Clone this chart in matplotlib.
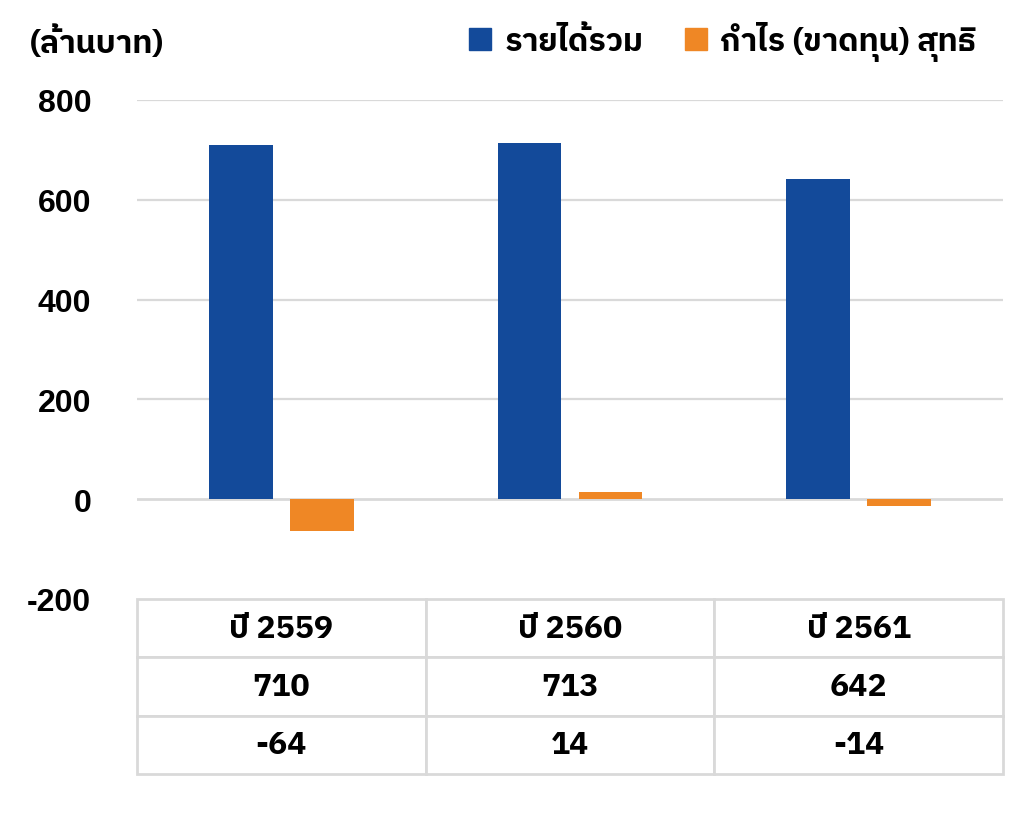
import matplotlib
matplotlib.use("Agg")
import matplotlib.pyplot as plt
from matplotlib.patches import Patch
import numpy as np

plt.rcParams['font.family'] = ['IBM Plex Sans Thai', 'DejaVu Sans']
plt.rcParams['axes.unicode_minus'] = False

years = ["ปี 2559", "ปี 2560", "ปี 2561"]
revenue = [710, 713, 642]
profit = [-64, 14, -14]
revenue_label = "รายได้รวม"
profit_label = "กำไร (ขาดทุน) สุทธิ"
unit_label = "(ล้านบาท)"

BLUE = "#134a9a"
ORANGE = "#ef8725"
GRID = "#d9d9d9"

fig = plt.figure(figsize=(10.24, 8.28), dpi=100)
ax = fig.add_axes([137 / 1024, 1 - 600 / 828, 866 / 1024, 499 / 828])

x = np.arange(len(years))
w = 0.22
ax.bar(x - 0.14, revenue, w, color=BLUE, zorder=3)
ax.bar(x + 0.14, profit, w, color=ORANGE, zorder=3)

ax.set_xlim(-0.5, len(years) - 0.5)
ax.set_ylim(-200, 800)
ax.set_yticks([-200, 0, 200, 400, 600, 800])
for y in [0, 200, 400, 600, 800]:
    ax.axhline(y, color=GRID, lw=1.6 if y else 2, zorder=1)
ax.set_xticks([])
for s in ax.spines.values():
    s.set_visible(False)
ax.tick_params(axis="y", length=0, pad=33)
for lab in ax.get_yticklabels():
    lab.set_fontfamily(['Liberation Sans', 'DejaVu Sans'])
    lab.set_fontweight("bold")
    lab.set_fontsize(23)

# data table under the plot
cells = [years, [str(v) for v in revenue], [str(v) for v in profit]]
tbl = ax.table(cellText=cells, cellLoc="center", bbox=[0, -0.351, 1, 0.351])
tbl.auto_set_font_size(False)
for (r, c), cell in tbl.get_celld().items():
    cell.set_edgecolor(GRID)
    cell.set_linewidth(2)
    cell.get_text().set_fontsize(23)
    cell.get_text().set_fontweight("bold")

fig.text(30 / 1024, 1 - 42 / 828, unit_label, fontsize=23, fontweight="bold",
         va="center", ha="left")

handles = [Patch(color=BLUE, label=revenue_label),
           Patch(color=ORANGE, label=profit_label)]
fig.legend(handles=handles, loc="center right", bbox_to_anchor=(988 / 1024, 1 - 42 / 828),
           ncol=2, frameon=False, prop={'weight': 'bold', 'size': 23},
           handlelength=0.7, handleheight=0.7, handletextpad=0.4, columnspacing=1.3,
           borderaxespad=0)

fig.savefig("out.png", dpi=100)
